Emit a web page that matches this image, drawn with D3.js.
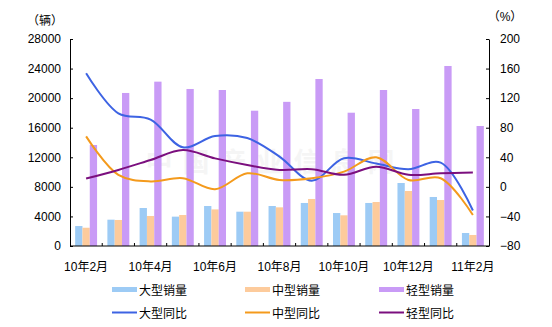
<!DOCTYPE html>
<html>
<head>
<meta charset="utf-8">
<script src="https://cdn.jsdelivr.net/npm/d3@7"></script>
<style>
  html, body { margin: 0; padding: 0; background: #fff; }
  svg { display: block; }
  text { font-family: "Liberation Sans", Arial, "Noto Sans CJK SC", sans-serif; fill: #000; }
</style>
</head>
<body>
<svg id="chart" width="552" height="327"></svg>
<script>
// Months on the category axis
const months = ["10年2月","10年3月","10年4月","10年5月","10年6月","10年7月","10年8月",
                "10年9月","10年10月","10年11月","10年12月","11年1月","11年2月"];
// Axis tick labels shown every other month
const monthLabels = ["10年2月","10年4月","10年6月","10年8月","10年10月","10年12月","11年2月"];

// Monthly sales (vehicles)
const largeSales  = [2700, 3560, 5140, 3970, 5410, 4640, 5410, 5820, 4460, 5820, 8520, 6630, 1760];
const mediumSales = [2470, 3520, 4060, 4190, 4950, 4640, 5230, 6360, 4150, 5950, 7440, 6220, 1490];
const lightSales  = [13660, 20700, 22230, 21240, 21100, 18300, 19500, 22590, 18030, 21100, 18530, 24350, 16230];

// Year-over-year growth (%)
const largeYoY  = [153.6, 99.5, 91, 53.5, 68.8, 66, 41, 8.4, 38.7, 31.5, 23.8, 32.8, -32];
const mediumYoY = [68.3, 16.3, 7.4, 11.7, -3.2, 18.4, 9.3, 11.7, 20.6, 40, 9.3, 11.7, -38];
const lightYoY  = [11.2, 22.9, 36.3, 49.8, 38.5, 29.6, 22.9, 23.8, 16.3, 27.3, 16.3, 18.4, 19.5];

const leftTicks  = [0, 4000, 8000, 12000, 16000, 20000, 24000, 28000];
const rightTicks = [-80, -40, 0, 40, 80, 120, 160, 200];

const barSeries  = ["大型销量", "中型销量", "轻型销量"];
const lineSeries = ["大型同比", "中型同比", "轻型同比"];
const barColors  = ["#9DCBF5", "#FDCB9C", "#C99BF6"];
const lineColors = ["#3D63E3", "#F49A1C", "#7B0F7E"];

const svg = d3.select("#chart");
const plot = { left: 70, right: 489, top: 39, bottom: 246 };

const x = d3.scaleBand().domain(months).range([plot.left, plot.right]).padding(0);
const xInner = d3.scaleBand().domain(barSeries)
  .range([x.bandwidth() * 0.16, x.bandwidth() * 0.84]).padding(0);
const yL = d3.scaleLinear().domain([0, 28000]).range([plot.bottom, plot.top]);
const yR = d3.scaleLinear().domain([-80, 200]).range([plot.bottom, plot.top]);

// faint site watermark behind the marks
svg.append("text")
  .attr("x", 275).attr("y", 172)
  .attr("text-anchor", "middle")
  .style("font-family", "'Noto Sans CJK SC', sans-serif")
  .style("font-size", "27px").style("font-weight", "bold")
  .style("letter-spacing", "10px")
  .style("fill", "#000").style("opacity", 0.035)
  .text("中国产业信息网");

// bars
const barData = [largeSales, mediumSales, lightSales];
barSeries.forEach((name, si) => {
  svg.append("g").selectAll("rect")
    .data(barData[si])
    .join("rect")
    .attr("x", (d, i) => x(months[i]) + xInner(name))
    .attr("width", xInner.bandwidth())
    .attr("y", d => yL(d))
    .attr("height", d => yL(0) - yL(d))
    .attr("fill", barColors[si]);
});

// smoothed YoY lines on the right axis
const lineData = [largeYoY, mediumYoY, lightYoY];
const line = d3.line()
  .x((d, i) => x(months[i]) + x.bandwidth() / 2)
  .y(d => yR(d))
  .curve(d3.curveCatmullRom.alpha(0.5));
lineSeries.forEach((name, si) => {
  svg.append("path")
    .datum(lineData[si])
    .attr("d", line)
    .attr("fill", "none")
    .attr("stroke", lineColors[si])
    .attr("stroke-width", 2);
});

// left axis
const axL = svg.append("g").attr("transform", `translate(${plot.left},0)`)
  .call(d3.axisLeft(yL).tickValues(leftTicks).tickSizeInner(-3).tickSizeOuter(0).tickPadding(9).tickFormat(d3.format("d")));
axL.select(".domain").attr("stroke", "#000");
axL.selectAll("text").style("font-size", "12px");

// right axis
const axR = svg.append("g").attr("transform", `translate(${plot.right},0)`)
  .call(d3.axisRight(yR).tickValues(rightTicks).tickSizeInner(-3).tickSizeOuter(0).tickPadding(11).tickFormat(d3.format("d")));
axR.select(".domain").attr("stroke", "#000");
axR.selectAll("text").style("font-size", "12px");

// bottom axis: ticks at category boundaries, labels every other month
const axB = svg.append("g").attr("transform", `translate(0,${plot.bottom})`);
axB.append("line").attr("x1", plot.left).attr("x2", plot.right).attr("stroke", "#000");
axB.selectAll("line.tick")
  .data(months.slice(1))
  .join("line").attr("class", "tick")
  .attr("x1", d => x(d)).attr("x2", d => x(d))
  .attr("y1", 0).attr("y2", -3).attr("stroke", "#000");
axB.selectAll("text")
  .data(monthLabels)
  .join("text")
  .attr("x", d => x(d) + x.bandwidth() / 2)
  .attr("y", 25)
  .attr("text-anchor", "middle")
  .style("font-size", "12px")
  .text(d => d);

// unit labels
svg.append("text").attr("x", 45).attr("y", 25).attr("text-anchor", "middle")
  .style("font-size", "12px").text("（辆）");
svg.append("text").attr("x", 505).attr("y", 21).attr("text-anchor", "middle")
  .style("font-size", "12px").text("（%）");

// legend
const legX = [112, 245, 379];
barSeries.forEach((name, i) => {
  svg.append("rect").attr("x", legX[i]).attr("y", 287).attr("width", 25).attr("height", 5)
    .attr("fill", barColors[i]);
  svg.append("text").attr("x", legX[i] + 27).attr("y", 294.5)
    .style("font-size", "12px").text(name);
});
lineSeries.forEach((name, i) => {
  svg.append("line").attr("x1", legX[i]).attr("x2", legX[i] + 25)
    .attr("y1", 312.5).attr("y2", 312.5)
    .attr("stroke", lineColors[i]).attr("stroke-width", 2);
  svg.append("text").attr("x", legX[i] + 27).attr("y", 318)
    .style("font-size", "12px").text(name);
});
</script>
</body>
</html>
